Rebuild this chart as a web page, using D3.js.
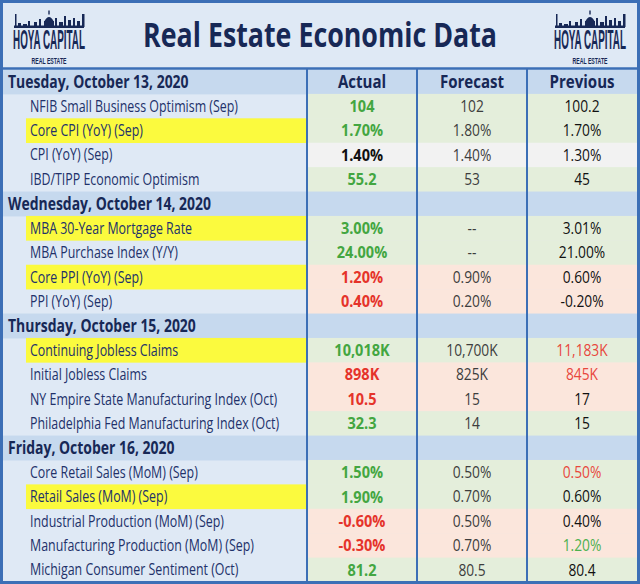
<!DOCTYPE html>
<html><head><meta charset="utf-8">
<script src="https://cdn.jsdelivr.net/npm/d3@7"></script>
<style>html,body{margin:0;padding:0;background:#fff}svg{display:block}</style>
</head><body><svg id="c" width="640" height="584"></svg>
<script>
// ---------- DATA ----------
const title = "Real Estate Economic Data";
const columns = ["Actual", "Forecast", "Previous"];
const days = ["Tuesday, October 13, 2020", "Wednesday, October 14, 2020", "Thursday, October 15, 2020", "Friday, October 16, 2020"];
const dayCounts = [4, 4, 4, 5];
const indicators = [
  "NFIB Small Business Optimism (Sep)", "Core CPI (YoY) (Sep)", "CPI (YoY) (Sep)", "IBD/TIPP Economic Optimism",
  "MBA 30-Year Mortgage Rate", "MBA Purchase Index (Y/Y)", "Core PPI (YoY) (Sep)", "PPI (YoY) (Sep)",
  "Continuing Jobless Claims", "Initial Jobless Claims", "NY Empire State Manufacturing Index (Oct)", "Philadelphia Fed Manufacturing Index (Oct)",
  "Core Retail Sales (MoM) (Sep)", "Retail Sales (MoM) (Sep)", "Industrial Production (MoM) (Sep)", "Manufacturing Production (MoM) (Sep)", "Michigan Consumer Sentiment (Oct)"
];
const actual = ["104", "1.70%", "1.40%", "55.2", "3.00%", "24.00%", "1.20%", "0.40%", "10,018K", "898K", "10.5", "32.3", "1.50%", "1.90%", "-0.60%", "-0.30%", "81.2"];
const forecast = ["102", "1.80%", "1.40%", "53", "--", "--", "0.90%", "0.20%", "10,700K", "825K", "15", "14", "0.50%", "0.70%", "0.50%", "0.70%", "80.5"];
const previous = ["100.2", "1.70%", "1.30%", "45", "3.01%", "21.00%", "0.60%", "-0.20%", "11,183K", "845K", "17", "15", "0.50%", "0.60%", "0.40%", "1.20%", "80.4"];
const outcome = ["beat", "beat", "inline", "beat", "beat", "beat", "miss", "miss", "beat", "miss", "miss", "beat", "beat", "beat", "miss", "miss", "beat"];
const previousTone = ["", "", "", "", "", "", "", "", "miss", "miss", "", "", "miss", "", "", "beat", ""];
const highlighted = [0, 1, 0, 0, 1, 0, 1, 0, 1, 0, 0, 0, 0, 1, 0, 0, 0];
const logoLines = ["HOYA CAPITAL", "REAL ESTATE"];

// ---------- STYLE ----------
const C = {
  bg: "#dfe9f5", dayBg: "#c6d9ee", border: "#3c6fb6", navy: "#172856", label: "#22316a",
  beatBg: "#e4eedb", missBg: "#fbe6dc", inlineBg: "#f2f2f2", yellow: "#fbfa3e",
  green: "#43a641", red: "#e5332a", black: "#111111", grey: "#3d3d3d", prevRed: "#e8473c", prevGreen: "#4bb04e"
};
const FONT = "'Open Sans', 'Noto Sans', sans-serif";
const LOGO_FONT = "'Liberation Sans', Arial, sans-serif";

const svg = d3.select("#c");
function condense(sel, f) {
  sel.each(function () {
    const w = this.getComputedTextLength();
    d3.select(this).attr("textLength", w * f).attr("lengthAdjust", "spacingAndGlyphs");
  });
}
// text squeezed horizontally with a transform so that its box stays true
function squeezed(parent, x, y, str, opts, targetW, sy) {
  const gg = parent.append("g");
  const t = gg.append("text").attr("x", 0).attr("y", 0)
    .attr("text-anchor", opts.anchor || "start")
    .attr("font-family", opts.family || FONT).attr("font-weight", opts.weight || 400)
    .attr("font-size", opts.size).attr("fill", opts.fill || null).text(str);
  const w = t.node().getComputedTextLength();
  gg.attr("transform", `translate(${x},${y}) scale(${targetW / w},${sy || 1})`);
  return gg;
}

// rows
const rows = [];
let k = 0;
days.forEach((d, di) => {
  rows.push({ type: "day", text: d });
  for (let j = 0; j < dayCounts[di]; j++) { rows.push({ type: "item", i: k }); k++; }
});

const y = d3.scaleBand().domain(d3.range(rows.length)).range([69.5, 582]);
const xCol = d3.scaleBand().domain(columns).range([307, 637]);
const bw = y.bandwidth();

// background
svg.append("rect").attr("x", 0).attr("y", 0).attr("width", 640).attr("height", 584).attr("fill", C.bg);

const g = svg.append("g");
rows.forEach((r, ri) => {
  const y0 = y(ri);
  if (r.type === "day") {
    g.append("rect").attr("x", 2).attr("y", y0).attr("width", 635).attr("height", bw + 0.5).attr("fill", C.dayBg);
    g.append("text").attr("x", 8).attr("y", y0 + bw / 2).attr("dy", "0.36em")
      .attr("font-family", FONT).attr("font-weight", 700).attr("font-size", 17).attr("fill", C.navy)
      .text(r.text).call(condense, 0.82);
    if (ri === 0) {
      columns.forEach(c => {
        g.append("text").attr("x", xCol(c) + xCol.bandwidth() / 2).attr("y", y0 + bw / 2).attr("dy", "0.36em")
          .attr("text-anchor", "middle").attr("font-family", FONT).attr("font-weight", 700).attr("font-size", 17.5)
          .attr("fill", C.navy).text(c).call(condense, 0.86);
      });
    }
  } else {
    const i = r.i;
    if (highlighted[i]) {
      g.append("rect").attr("x", 26).attr("y", y0).attr("width", 280).attr("height", bw + 0.3).attr("fill", C.yellow);
    }
    const tone = outcome[i];
    g.append("rect").attr("x", 307).attr("y", y0).attr("width", 330).attr("height", bw + 0.5)
      .attr("fill", tone === "beat" ? C.beatBg : tone === "miss" ? C.missBg : C.inlineBg);
    g.append("text").attr("x", 30).attr("y", y0 + bw / 2).attr("dy", "0.36em")
      .attr("font-family", FONT).attr("font-size", 15.5).attr("fill", C.label)
      .text(indicators[i]).call(condense, 0.8);
    const cx = c => xCol(c) + xCol.bandwidth() / 2;
    g.append("text").attr("x", cx("Actual")).attr("y", y0 + bw / 2).attr("dy", "0.36em").attr("text-anchor", "middle")
      .attr("font-family", FONT).attr("font-weight", 700).attr("font-size", 16.5)
      .attr("fill", tone === "beat" ? C.green : tone === "miss" ? C.red : C.black)
      .text(actual[i]).call(condense, 0.88);
    g.append("text").attr("x", cx("Forecast")).attr("y", y0 + bw / 2).attr("dy", "0.36em").attr("text-anchor", "middle")
      .attr("font-family", FONT).attr("font-size", 16).attr("fill", C.grey)
      .text(forecast[i]).call(condense, 0.86);
    const pt = previousTone[i];
    g.append("text").attr("x", cx("Previous")).attr("y", y0 + bw / 2).attr("dy", "0.36em").attr("text-anchor", "middle")
      .attr("font-family", FONT).attr("font-size", 16)
      .attr("fill", pt === "miss" ? C.prevRed : pt === "beat" ? C.prevGreen : C.black)
      .text(previous[i]).call(condense, 0.86);
  }
});

// grid lines
columns.forEach(c => {
  svg.append("line").attr("x1", xCol(c)).attr("x2", xCol(c)).attr("y1", 68).attr("y2", 582)
    .attr("stroke", C.border).attr("stroke-width", 2);
});
svg.append("line").attr("x1", 0).attr("x2", 640).attr("y1", 68.5).attr("y2", 68.5).attr("stroke", C.border).attr("stroke-width", 2.5);
svg.append("rect").attr("x", 1.5).attr("y", 1.5).attr("width", 637).attr("height", 581).attr("fill", "none")
  .attr("stroke", C.border).attr("stroke-width", 3);

// title
squeezed(svg, 320, 47, title, { anchor: "middle", weight: 700, size: 30, fill: C.navy }, 354, 1.12);

// logos
function logo(cx) {
  const lg = svg.append("g").attr("fill", C.navy);
  const spires = [[-34, 1.5, 13], [-31, 3, 4], [-26, 4, 3], [-21, 2, 6], [-15, 3, 5], [-10, 2, 8], [-5, 10, 6], [6, 2, 9], [10, 4, 5], [15, 2, 11], [19, 3, 7], [24, 2, 9], [28, 3, 6], [33, 2.5, 13]];
  spires.forEach(s => lg.append("rect").attr("x", cx + s[0]).attr("y", 27 - s[2]).attr("width", s[1]).attr("height", s[2]));
  lg.append("path").attr("d", `M${cx - 5},22 Q${cx},12 ${cx + 5},22 Z`);
  lg.append("rect").attr("x", cx - 0.7).attr("y", 10.5).attr("width", 1.4).attr("height", 4);
  lg.append("rect").attr("x", cx - 35).attr("y", 25.5).attr("width", 70).attr("height", 2.5);
  squeezed(lg, cx, 48.5, logoLines[0], { anchor: "middle", weight: 700, size: 18, family: LOGO_FONT }, 72, 1.5);
  squeezed(lg, cx, 63.5, logoLines[1], { anchor: "middle", weight: 700, size: 7.5, family: LOGO_FONT }, 35, 1.3);
}
logo(49);
logo(590);
</script>
</body></html>
